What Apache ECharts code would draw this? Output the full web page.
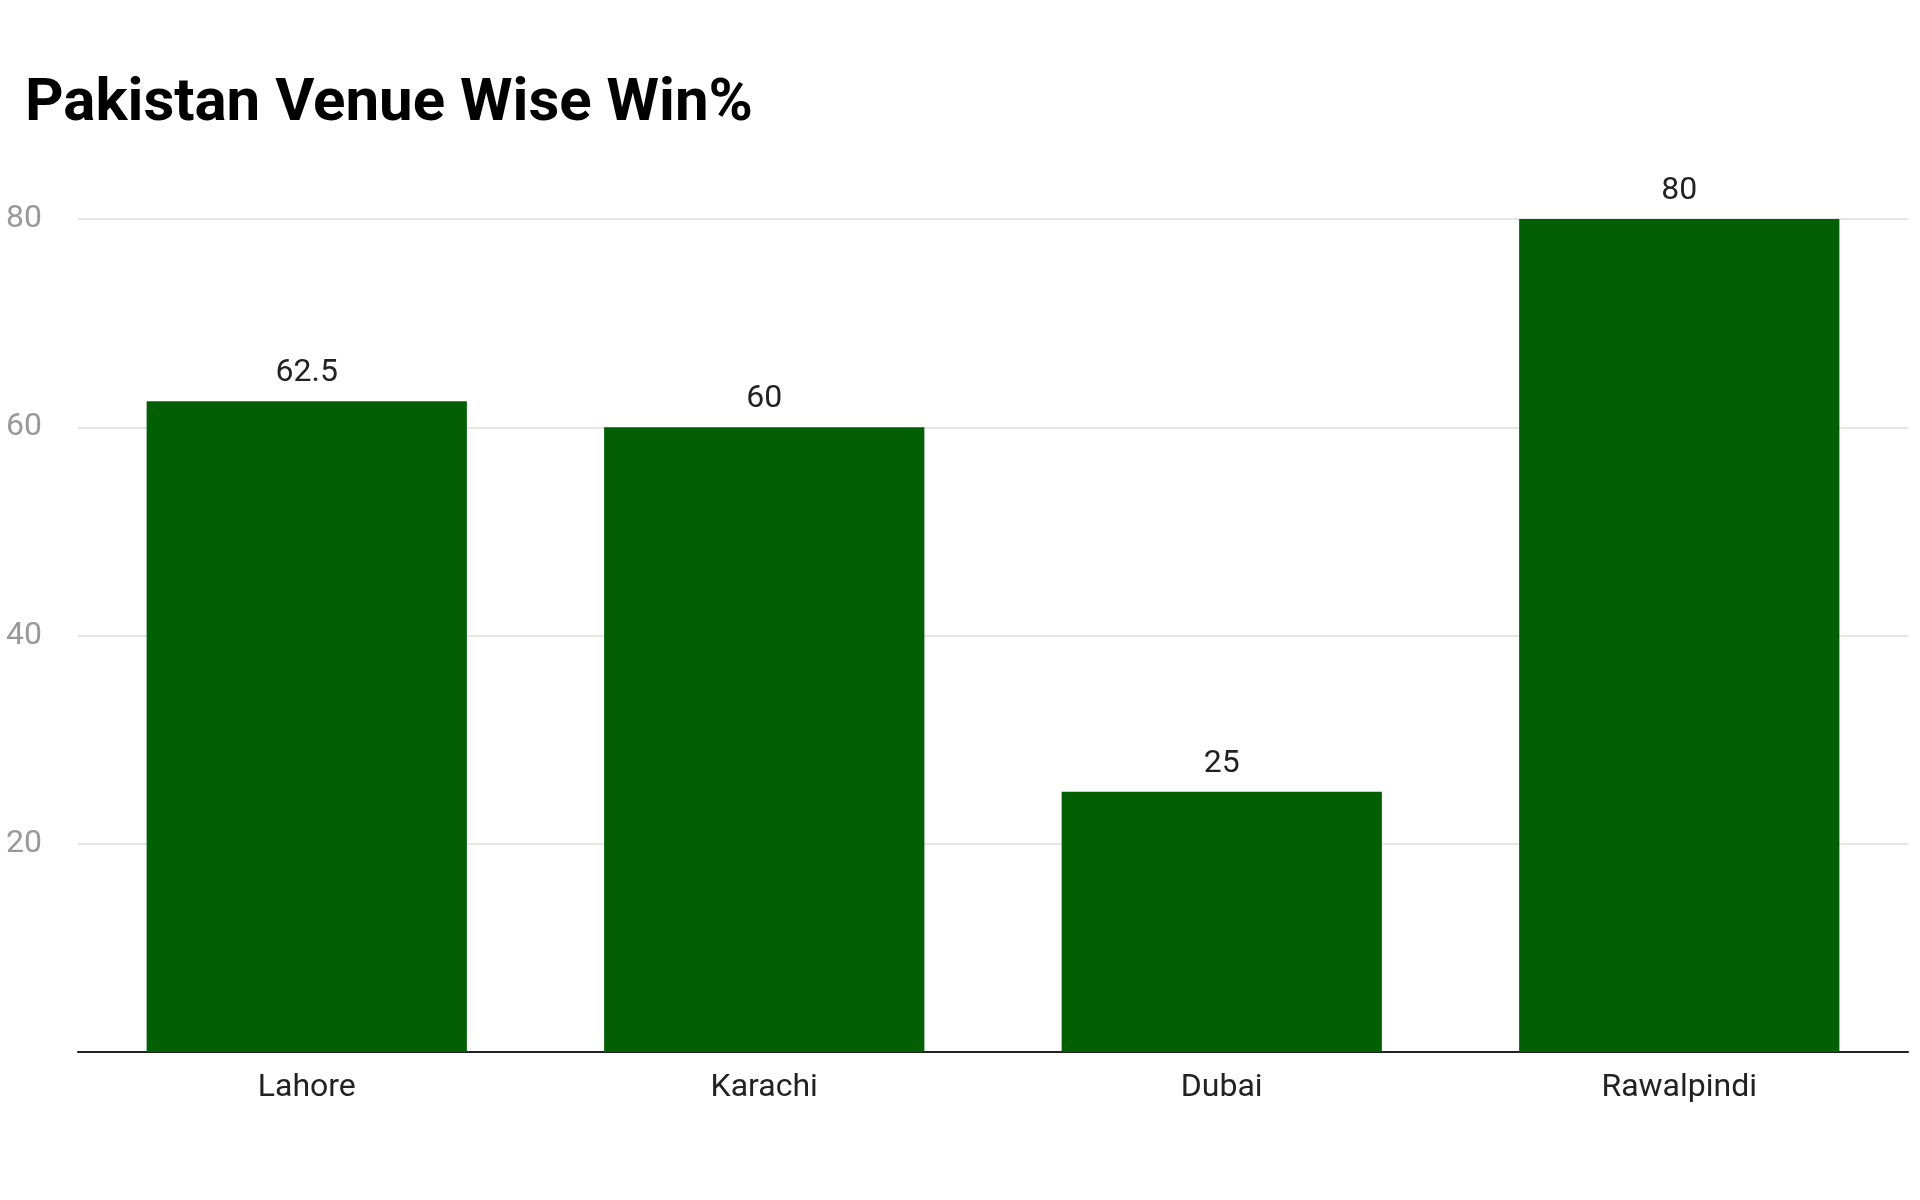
<!DOCTYPE html><html><head><meta charset="utf-8"><script src="https://cdn.jsdelivr.net/npm/echarts@6/dist/echarts.min.js"></script>
<style>html,body{margin:0;background:#fff}#c{width:1920px;height:1200px}</style></head><body><div id="c"></div><script>
const categories=["Lahore","Karachi","Dubai","Rawalpindi"];
const winPct=[62.5,60,25,80];
const yTicks=[0,20,40,60,80];
const chart=echarts.init(document.getElementById('c'));
chart.setOption({
 animation:false,
 title:{text:"Pakistan Venue Wise Win%",left:20,top:70,textStyle:{fontFamily:"Roboto",fontWeight:"bold",fontSize:60,color:"#000"}},
 grid:{left:78,right:12,top:219,bottom:148},
 xAxis:{type:"category",data:categories,axisTick:{show:false},axisLine:{lineStyle:{color:"#222",width:2}},
   axisLabel:{fontFamily:"Roboto",fontSize:32,color:"#222",margin:20}},
 yAxis:{type:"value",min:0,max:80,interval:20,axisLabel:{fontFamily:"Roboto",fontSize:32,color:"#999",align:"left",margin:72,
   formatter:v=>yTicks.includes(v)&&v!==0?String(v):""},splitLine:{lineStyle:{color:"#e6e6e6",width:2}}},
 series:[{type:"bar",data:winPct,barWidth:"70%",itemStyle:{color:"#035f03"},
   label:{show:true,position:"top",fontFamily:"Roboto",fontSize:32,color:"#222",distance:12}}]
});
</script></body></html>
